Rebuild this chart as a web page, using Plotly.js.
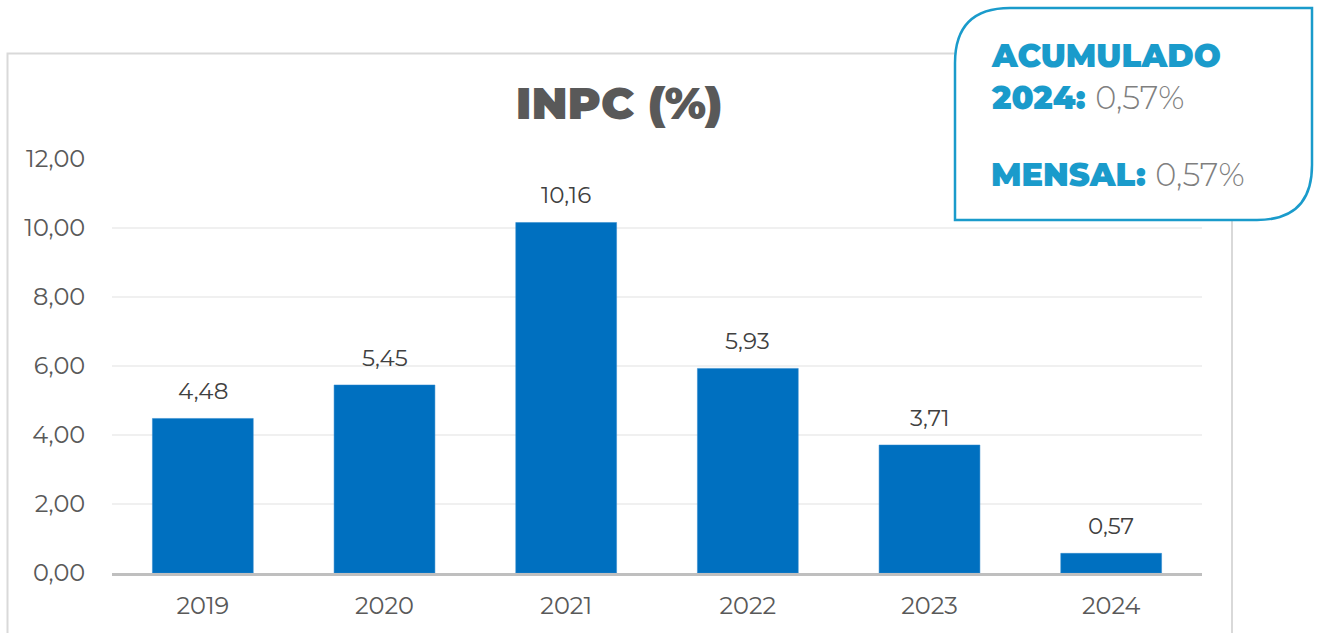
<!DOCTYPE html>
<html>
<head>
<meta charset="utf-8">
<script src="https://cdn.plot.ly/plotly-3.0.1.min.js"></script>
<style>html,body{margin:0;padding:0;background:#fff;}#chart{width:1317px;height:633px;}</style>
</head>
<body>
<div id="chart"></div>
<script>
const years = ['2019', '2020', '2021', '2022', '2023', '2024'];
const inpc = [4.48, 5.45, 10.16, 5.93, 3.71, 0.57];
const yTicks = [0, 2, 4, 6, 8, 10, 12];
const chartTitle = 'INPC (%)';
const accumLabel = 'ACUMULADO<br>2024:';
const accumValue = '0,57%';
const monthLabel = 'MENSAL:';
const monthValue = '0,57%';

const fmt = v => v.toFixed(2).replace('.', ',');
const W = 1317, H = 633;
const L = 112, R = 1202, T = 159, B = 573;
const px = x => (x - L) / (R - L);
const py = y => (B - y) / (B - T);
const FONT = "Montserrat, 'Open Sans', 'Noto Sans', sans-serif";

const trace = {
  type: 'bar',
  x: years,
  y: inpc,
  marker: {color: '#0070C0', line: {color: '#2b86cc', width: 0.5}},
  hoverinfo: 'skip'
};

const annotations = years.map((yr, i) => ({
  x: i, y: inpc[i], xref: 'x', yref: 'y',
  text: fmt(inpc[i]), showarrow: false,
  yanchor: 'bottom', yshift: 11,
  font: {family: FONT, size: 23, color: '#404040'}
}));

const numSpan = v => '<span style="color:#7f7f7f;font-weight:300">' + v + '</span>';
annotations.push({
  xref: 'paper', yref: 'paper', x: px(989), y: py(34), xanchor: 'left', yanchor: 'top',
  align: 'left', showarrow: false,
  text: accumLabel.split('<br>').map((s, k, a) => k === a.length - 1 ? s + ' ' + numSpan(accumValue) : s).join('<br>'),
  font: {family: FONT, size: 32, color: '#1a9bcb', weight: 900}
});
annotations.push({
  xref: 'paper', yref: 'paper', x: px(989), y: py(175), xanchor: 'left', yanchor: 'middle',
  align: 'left', showarrow: false,
  text: monthLabel + ' ' + numSpan(monthValue),
  font: {family: FONT, size: 32, color: '#1a9bcb', weight: 900}
});

const bx0 = 955, by0 = 8, bx1 = 1312, by1 = 220, r = 55;
const boxPath = [
  `M ${px(bx0)} ${py(by1)}`,
  `L ${px(bx0)} ${py(by0 + r)}`,
  `Q ${px(bx0)} ${py(by0)} ${px(bx0 + r)} ${py(by0)}`,
  `L ${px(bx1)} ${py(by0)}`,
  `L ${px(bx1)} ${py(by1 - r)}`,
  `Q ${px(bx1)} ${py(by1)} ${px(bx1 - r)} ${py(by1)}`,
  'Z'
].join(' ');

const layout = {
  width: W, height: H,
  margin: {l: L, r: W - R, t: T, b: H - B, pad: 0},
  paper_bgcolor: '#ffffff', plot_bgcolor: '#ffffff',
  showlegend: false,
  bargap: 0.445,
  title: {
    text: chartTitle,
    font: {family: FONT, size: 45, color: '#595959', weight: 900},
    xref: 'container', x: 619 / W, xanchor: 'center',
    yref: 'container', y: 1 - 103 / H, yanchor: 'middle'
  },
  xaxis: {
    type: 'category',
    range: [-0.5, years.length - 0.5],
    autorange: false,
    showgrid: false,
    showline: true, linecolor: '#bfbfbf', linewidth: 3,
    ticks: 'outside', ticklen: 9, tickcolor: 'rgba(0,0,0,0)',
    tickfont: {family: FONT, size: 24, color: '#595959'},
    fixedrange: true
  },
  yaxis: {
    range: [0, 12],
    autorange: false,
    tickvals: yTicks,
    ticktext: yTicks.map(fmt),
    showgrid: true, gridcolor: '#f0f0f0', gridwidth: 2,
    zeroline: false, showline: false,
    ticks: 'outside', ticklen: 21, tickcolor: 'rgba(0,0,0,0)',
    tickfont: {family: FONT, size: 24, color: '#595959'},
    fixedrange: true
  },
  shapes: [
    {type: 'rect', xref: 'paper', yref: 'paper',
     x0: px(7.5), x1: px(1232), y0: py(660), y1: py(53.5),
     line: {color: '#d9d9d9', width: 2}, fillcolor: 'rgba(0,0,0,0)', layer: 'below'},
    {type: 'path', xref: 'paper', yref: 'paper', path: boxPath,
     line: {color: '#1a9bcb', width: 2.5}, fillcolor: '#ffffff', layer: 'above'}
  ],
  annotations: annotations
};

Plotly.newPlot('chart', [trace], layout, {displayModeBar: false, staticPlot: true});
</script>
</body>
</html>
